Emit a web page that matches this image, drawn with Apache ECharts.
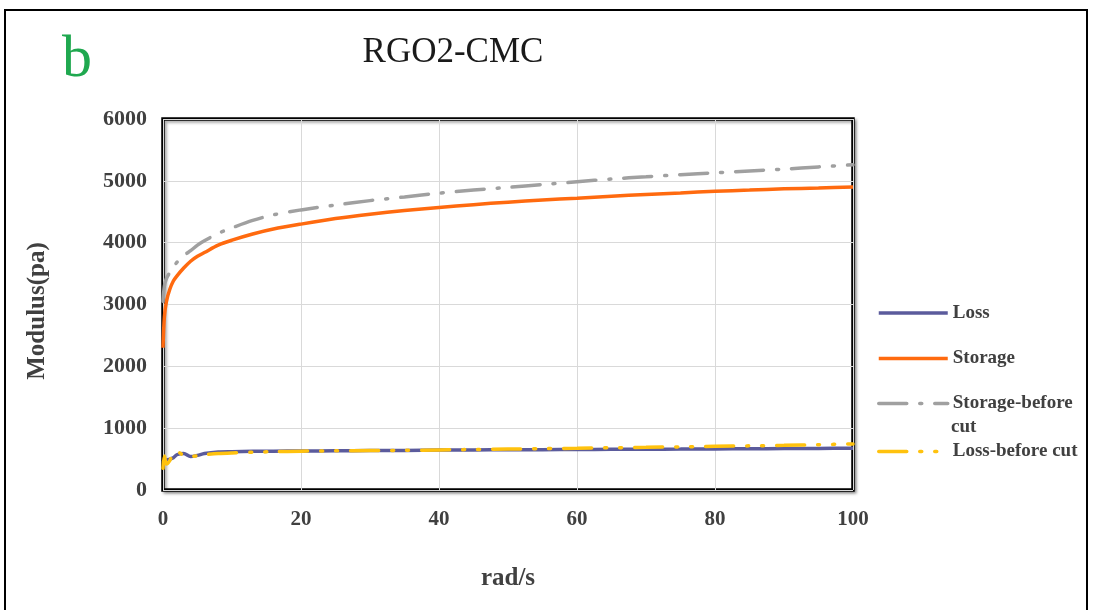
<!DOCTYPE html>
<html><head><meta charset="utf-8">
<script src="https://cdn.jsdelivr.net/npm/echarts@6/dist/echarts.min.js"></script>
<style>html,body{margin:0;padding:0;background:#fff}#c{width:1094px;height:610px}</style>
</head><body><div id="c"></div>
<script>
const xs = [0,0.2,0.5,1,1.5,2,3,4,5,6,8,10,13,16,20,25,30,35,40,45,50,55,60,65,70,75,80,85,90,95,100];
const loss = [440,470,480,500,520,570,590,540,560,590,615,620,625,628,630,635,638,640,645,648,650,652,655,658,660,662,665,667,670,672,675];
const storage = [2300,2800,3050,3250,3380,3460,3590,3700,3780,3840,3960,4040,4140,4220,4300,4390,4460,4520,4570,4615,4655,4690,4720,4750,4780,4805,4830,4850,4870,4885,4900];
const storageBefore = [3050,3300,3420,3520,3600,3680,3790,3870,3960,4030,4150,4240,4360,4450,4530,4610,4680,4740,4800,4850,4895,4940,4985,5030,5065,5100,5130,5160,5190,5225,5260];
const lossBefore = [350,550,420,480,600,620,560,540,555,570,590,600,610,620,628,633,638,642,648,655,662,668,675,683,690,698,706,714,722,733,745];
const seriesNames = ['Loss','Storage','Storage-before cut','Loss-before cut'];
const xTicks = [0,20,40,60,80,100];

const pair = a => xs.map((x,i)=>[x,a[i]]);
const font = 'Liberation Serif, Times New Roman, serif';
const chart = echarts.init(document.getElementById('c'));
const legendText = {fontFamily:font,fontWeight:'bold',fontSize:19,color:'#404040',lineHeight:21};
const mkLegend = (name, top, label) => ({
  data:[name], left:877, top:top, padding:0, orient:'vertical', itemWidth:69, itemHeight:14, itemGap:0,
  itemStyle:{opacity:0}, lineStyle:{width:3.5, opacity:1},
  textStyle:legendText, formatter: () => label || name
});
chart.setOption({
  animation:false,
  graphic:[
    {type:'rect',shape:{x:5,y:10,width:1082,height:620},style:{fill:'none',stroke:'#000',lineWidth:2},z:-1},
    {type:'text',left:62,top:30,style:{text:'b',fontFamily:font,fontSize:60,fill:'#1fa84f'}},
    {type:'text',x:453,y:53,style:{text:'RGO2-CMC',fontFamily:font,fontSize:35,fill:'#1a1a1a',align:'center',verticalAlign:'middle'}},
    {type:'text',x:38,y:311,rotation:Math.PI/2,style:{text:'Modulus(pa)',fontFamily:font,fontWeight:'bold',fontSize:25,fill:'#404040',align:'center',verticalAlign:'middle'}},
    {type:'text',x:951,y:427,style:{text:'cut',fontFamily:font,fontWeight:'bold',fontSize:19,fill:'#404040',align:'left',verticalAlign:'middle'}}
  ],
  legend:[mkLegend('Loss',302.5),mkLegend('Storage',348),mkLegend('Storage-before cut',393,'Storage-before'),mkLegend('Loss-before cut',441)],
  grid:{left:163,right:241,top:119,bottom:120,show:true,borderColor:'#000',borderWidth:3.5,backgroundColor:'#fff',shadowColor:'rgba(0,0,0,0.35)',shadowBlur:3,shadowOffsetX:2,shadowOffsetY:2},
  xAxis:{type:'value',min:0,max:100,interval:20,name:'rad/s',nameLocation:'middle',nameGap:76,
    nameTextStyle:{fontFamily:font,fontWeight:'bold',fontSize:25,color:'#404040'},
    axisLine:{show:false},axisTick:{show:false},
    axisLabel:{fontFamily:font,fontWeight:'bold',fontSize:21,color:'#404040',margin:19,formatter:v=>xTicks.includes(v)?String(v):''},
    splitLine:{lineStyle:{color:'#d9d9d9',width:1}}},
  yAxis:{type:'value',min:0,max:6000,interval:1000,
    axisLine:{show:false},axisTick:{show:false},
    axisLabel:{fontFamily:font,fontWeight:'bold',fontSize:22,color:'#404040',margin:16,formatter:v=>String(v)},
    splitLine:{lineStyle:{color:'#d9d9d9',width:1}}},
  series:[
    {name:seriesNames[0],type:'line',data:pair(loss),symbol:'none',smooth:0.3,lineStyle:{color:'#5b5b9c',width:3.5},itemStyle:{color:'#5b5b9c'}},
    {name:seriesNames[1],type:'line',data:pair(storage),symbol:'none',smooth:0.3,lineStyle:{color:'#ff6a0f',width:3.5},itemStyle:{color:'#ff6a0f'}},
    {name:seriesNames[2],type:'line',data:pair(storageBefore),symbol:'none',smooth:0.3,lineStyle:{color:'#a0a0a0',width:3.5,type:[28,13,2,13],cap:'round'},itemStyle:{color:'#a0a0a0'}},
    {name:seriesNames[3],type:'line',data:pair(lossBefore),symbol:'none',smooth:0.3,lineStyle:{color:'#ffc20e',width:3.5,type:[28,13,2,13,2,13],cap:'round'},itemStyle:{color:'#ffc20e'}}
  ]
});
</script></body></html>
